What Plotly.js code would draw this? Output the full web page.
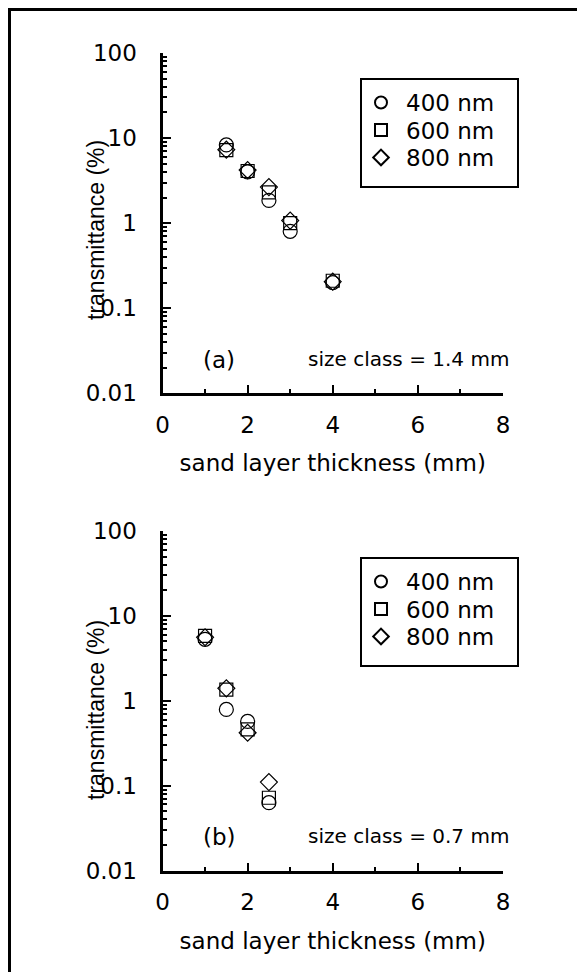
<!DOCTYPE html>
<html>
<head>
<meta charset="utf-8">
<script src="https://cdn.plot.ly/plotly-3.0.1.min.js"></script>
<style>html,body{margin:0;padding:0;background:#fff;}</style>
</head>
<body>
<div id="chart" style="width:577px;height:972px;"></div>
<script>
// ---- data ----
const thicknessA = [1.5, 2, 2.5, 3, 4];
const nm400A = [8.3, 4.0, 1.85, 0.8, 0.2];
const nm600A = [7.2, 4.1, 2.3, 1.0, 0.21];
const nm800A = [7.3, 4.2, 2.65, 1.07, 0.205];

const thicknessB = [1, 1.5, 2, 2.5];
const nm400B = [5.3, 0.79, 0.57, 0.063];
const nm600B = [5.8, 1.35, 0.46, 0.072];
const nm800B = [5.6, 1.4, 0.42, 0.11];

const seriesNames = ['400 nm', '600 nm', '800 nm'];
const yTickVals = [0.01, 0.1, 1, 10, 100];
const yTickText = ['0.01', '0.1', '1', '10', '100'];
const xTickVals = [0, 2, 4, 6, 8];
const sizeClassA = 'size class = 1.4 mm';
const sizeClassB = 'size class = 0.7 mm';

// ---- styling ----
const FONT = 'DejaVu Sans, Arial, sans-serif';
const FONT_V = 'Liberation Sans, Arial, sans-serif';
const W = 577, H = 972;
const px = v => v / W;
const py = v => 1 - v / H;
const symbols = ['circle-open', 'square-open', 'diamond-open'];
const sizes = [14, 13, 13];

function mk(x, y, i, xa, ya, leg) {
  return {
    type: 'scatter', mode: 'markers', x: x, y: y, name: seriesNames[i],
    xaxis: xa, yaxis: ya, legend: leg, showlegend: true,
    marker: {symbol: symbols[i], size: sizes[i], color: '#000', line: {width: 1.2, color: '#000'}},
    hoverinfo: 'x+y'
  };
}

const data = [
  mk(thicknessA, nm400A, 0, 'x', 'y', 'legend'),
  mk(thicknessA, nm600A, 1, 'x', 'y', 'legend2'),
  mk(thicknessA, nm800A, 2, 'x', 'y', 'legend3'),
  mk(thicknessB, nm400B, 0, 'x2', 'y2', 'legend4'),
  mk(thicknessB, nm600B, 1, 'x2', 'y2', 'legend5'),
  mk(thicknessB, nm800B, 2, 'x2', 'y2', 'legend6')
];

const minorLog = [];
[0.01, 0.1, 1, 10].forEach(d => { for (let k = 2; k <= 9; k++) minorLog.push(+(d * k).toPrecision(3)); });

function xAxis(anchor) {
  return {
    domain: [px(162.5), px(503)], anchor: anchor, range: [0, 8],
    tickmode: 'array', tickvals: xTickVals,
    ticks: 'inside', ticklen: 8, tickwidth: 2, tickcolor: '#000',
    minor: {tickmode: 'array', tickvals: [1, 3, 5, 7], ticks: 'inside', ticklen: 4, tickwidth: 2, tickcolor: '#000'},
    showline: true, linewidth: 3, linecolor: '#000', showgrid: false, zeroline: false,
    tickfont: {family: FONT, size: 23, color: '#000'},
    ticklabelstandoff: 9,
    title: {text: 'sand layer thickness (mm)', font: {family: FONT, size: 23, color: '#000'}, standoff: 19},
    automargin: false, fixedrange: true
  };
}
function yAxis(domain, anchor) {
  return {
    domain: domain, anchor: anchor, type: 'log', range: [-2, 2],
    tickmode: 'array', tickvals: yTickVals, ticktext: yTickText,
    ticks: 'inside', ticklen: 8, tickwidth: 2, tickcolor: '#000',
    minor: {tickmode: 'array', tickvals: minorLog, ticks: 'inside', ticklen: 4, tickwidth: 2, tickcolor: '#000'},
    showline: true, linewidth: 3, linecolor: '#000', showgrid: false, zeroline: false,
    tickfont: {family: FONT, size: 23, color: '#000'},
    ticklabelstandoff: 18,
    automargin: false, fixedrange: true
  };
}

function leg(top) {
  return {
    x: px(356), y: py(top), xanchor: 'left', yanchor: 'top',
    bgcolor: 'rgba(0,0,0,0)', borderwidth: 0, font: {family: FONT, size: 23, color: '#000'},
    itemsizing: 'constant', itemwidth: 40
  };
}

function yTitle(yc) {
  return {xref: 'paper', yref: 'paper', x: px(96), y: py(yc), text: 'transmittance (%)', textangle: -90,
    showarrow: false, xanchor: 'center', yanchor: 'middle', font: {family: FONT_V, size: 23, color: '#000'}};
}

const layout = {
  width: W, height: H, margin: {l: 0, r: 0, t: 0, b: 0}, autosize: false,
  paper_bgcolor: '#fff', plot_bgcolor: 'rgba(0,0,0,0)',
  font: {family: FONT, color: '#000'},
  xaxis: xAxis('y'),
  yaxis: yAxis([py(393.2), py(53)], 'x'),
  xaxis2: xAxis('y2'),
  yaxis2: yAxis([py(870.5), py(531)], 'x2'),
  legend: leg(81), legend2: leg(108.5), legend3: leg(136),
  legend4: leg(560), legend5: leg(587.5), legend6: leg(615),
  annotations: [
    yTitle(230), yTitle(710),
    {xref: 'paper', yref: 'paper', x: px(219), y: py(360), text: '(a)', showarrow: false,
     xanchor: 'center', yanchor: 'middle', font: {family: FONT, size: 23, color: '#000'}},
    {xref: 'paper', yref: 'paper', x: px(511), y: py(359), text: sizeClassA, showarrow: false,
     xanchor: 'right', yanchor: 'middle', font: {family: FONT, size: 20, color: '#000'}},
    {xref: 'paper', yref: 'paper', x: px(219), y: py(837), text: '(b)', showarrow: false,
     xanchor: 'center', yanchor: 'middle', font: {family: FONT, size: 23, color: '#000'}},
    {xref: 'paper', yref: 'paper', x: px(511), y: py(836), text: sizeClassB, showarrow: false,
     xanchor: 'right', yanchor: 'middle', font: {family: FONT, size: 20, color: '#000'}}
  ],
  shapes: [
    {type: 'rect', xref: 'paper', yref: 'paper', x0: px(9.5), x1: 1.05, y0: -0.05, y1: py(9.5),
     line: {color: '#000', width: 3}, fillcolor: 'rgba(0,0,0,0)', layer: 'below'},
    {type: 'rect', xref: 'paper', yref: 'paper', x0: px(361), x1: px(518), y0: py(187), y1: py(79),
     line: {color: '#000', width: 2}, fillcolor: 'rgba(0,0,0,0)', layer: 'below'},
    {type: 'rect', xref: 'paper', yref: 'paper', x0: px(361), x1: px(518), y0: py(666), y1: py(558),
     line: {color: '#000', width: 2}, fillcolor: 'rgba(0,0,0,0)', layer: 'below'}
  ]
};

Plotly.newPlot('chart', data, layout, {displayModeBar: false, staticPlot: true});
</script>
</body>
</html>
